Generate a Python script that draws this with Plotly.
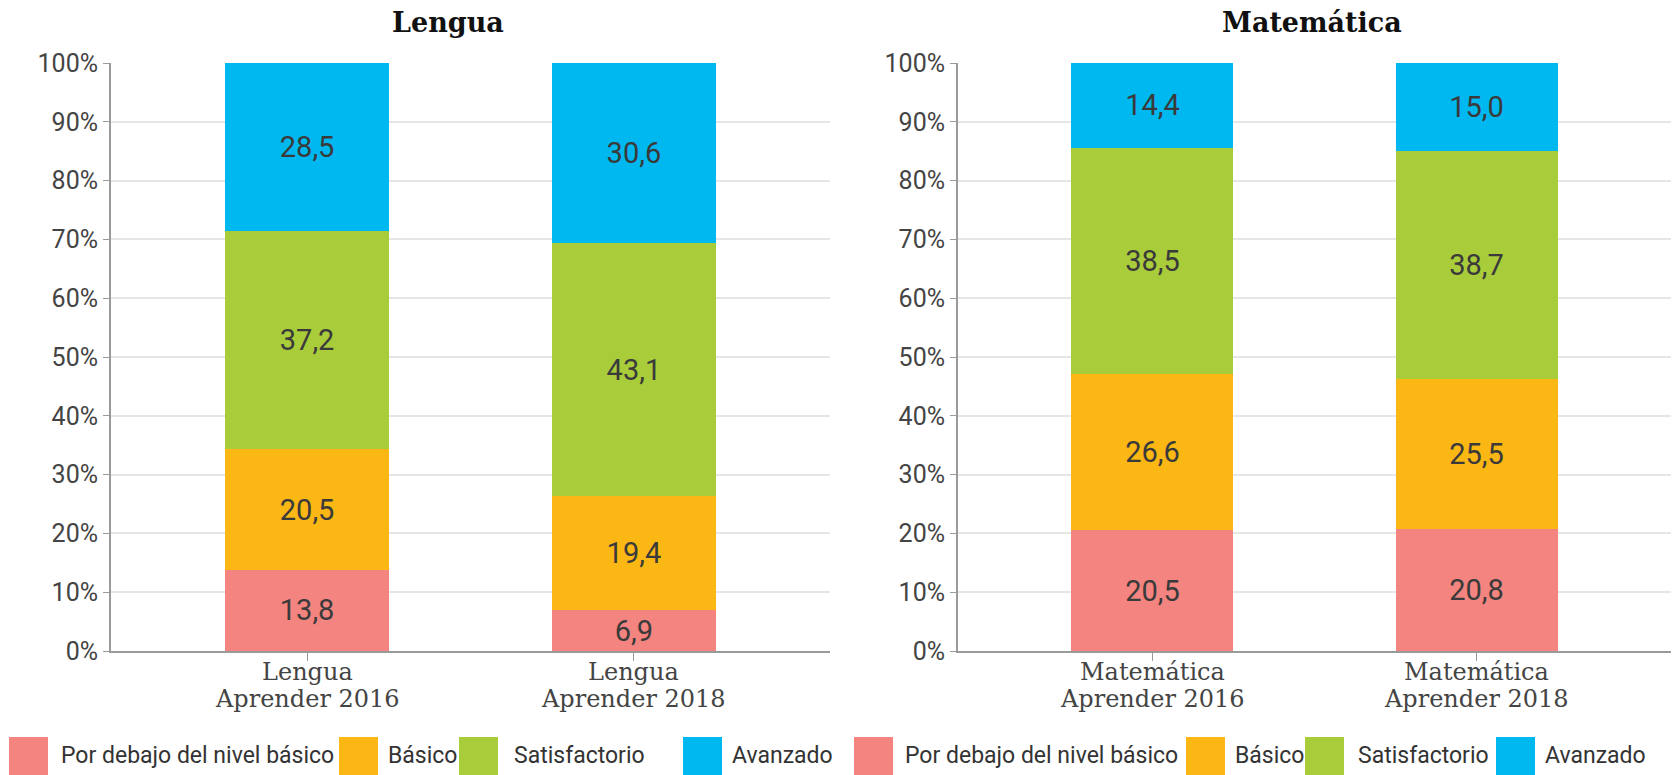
import plotly.graph_objects as go

W, H = 1674, 775

levels = ["Por debajo del nivel básico", "Básico", "Satisfactorio", "Avanzado"]
colors = ["#F4847F", "#FBB714", "#A8CC3A", "#00B8F0"]

lengua_cats = ["Lengua<br>Aprender 2016", "Lengua<br>Aprender 2018"]
mate_cats = ["Matemática<br>Aprender 2016", "Matemática<br>Aprender 2018"]

lengua_vals = {
    "Por debajo del nivel básico": [13.8, 6.9],
    "Básico": [20.5, 19.4],
    "Satisfactorio": [37.2, 43.1],
    "Avanzado": [28.5, 30.6],
}
mate_vals = {
    "Por debajo del nivel básico": [20.5, 20.8],
    "Básico": [26.6, 25.5],
    "Satisfactorio": [38.5, 38.7],
    "Avanzado": [14.4, 15.0],
}

y_ticks = [0, 10, 20, 30, 40, 50, 60, 70, 80, 90, 100]
y_ticktext = [f"{t}%" for t in y_ticks]

def fmt(v):
    return f"{v:.1f}".replace(".", ",")

fig = go.Figure()
for lvl, col in zip(levels, colors):
    fig.add_trace(go.Bar(
        x=lengua_cats, y=lengua_vals[lvl], name=lvl, marker_color=col,
        marker_line_width=0,
        text=[fmt(v) for v in lengua_vals[lvl]], textposition="inside",
        insidetextanchor="middle", textangle=0,
        textfont=dict(family="Roboto", size=29, color="#3a3a3a"),
        xaxis="x", yaxis="y", showlegend=False, hoverinfo="skip"))
    fig.add_trace(go.Bar(
        x=mate_cats, y=mate_vals[lvl], name=lvl, marker_color=col,
        marker_line_width=0,
        text=[fmt(v) for v in mate_vals[lvl]], textposition="inside",
        insidetextanchor="middle", textangle=0,
        textfont=dict(family="Roboto", size=29, color="#3a3a3a"),
        xaxis="x2", yaxis="y2", showlegend=False, hoverinfo="skip"))

def px(x):
    return x / W

def py(y):
    return 1 - y / H

ydom = [py(651), py(63)]
xaxis_common = dict(
    type="category", range=[-0.6, 1.6], showline=True, linecolor="#9a9a9a",
    linewidth=2, ticks="outside", ticklen=8, tickcolor="#9a9a9a",
    showticklabels=False,
    showgrid=False, zeroline=False, fixedrange=True, automargin=False)
yaxis_common = dict(
    range=[0, 100], tickvals=y_ticks, ticktext=y_ticktext, showline=True,
    linecolor="#9a9a9a", linewidth=2, ticks="outside", ticklen=6,
    tickcolor="#9a9a9a", showgrid=True, gridcolor="#e6e6e6", gridwidth=1.5,
    tickfont=dict(family="Roboto", size=25, color="#444444"),
    zeroline=False, domain=ydom, fixedrange=True, automargin=False)

fig.update_layout(
    width=W, height=H, margin=dict(l=0, r=0, t=0, b=0, autoexpand=False),
    paper_bgcolor="white", plot_bgcolor="white",
    barmode="stack", bargap=0.5, showlegend=False,
    xaxis=dict(domain=[px(111), px(830)], anchor="y", **xaxis_common),
    yaxis=dict(anchor="x", **yaxis_common),
    xaxis2=dict(domain=[px(958), px(1671)], anchor="y2", **xaxis_common),
    yaxis2=dict(anchor="x2", **yaxis_common),
)

annotations = [
    dict(text="<b>Lengua</b>", x=px(448), y=py(22), xref="paper", yref="paper",
         showarrow=False, xanchor="center", yanchor="middle",
         font=dict(family="DejaVu Serif", size=27, color="#111111")),
    dict(text="<b>Matemática</b>", x=px(1312), y=py(22), xref="paper", yref="paper",
         showarrow=False, xanchor="center", yanchor="middle",
         font=dict(family="DejaVu Serif", size=27, color="#111111")),
]
# category labels (two lines each), positioned on the category axis
for cats, xr in ((lengua_cats, "x"), (mate_cats, "x2")):
    for c in cats:
        for i, line in enumerate(c.split("<br>")):
            annotations.append(dict(
                text=line, x=c, xref=xr, y=py(672 + i * 27), yref="paper",
                showarrow=False, xanchor="center", yanchor="middle",
                font=dict(family="DejaVu Serif", size=24, color="#444444")))

shapes = []
legend_left = [(9, 59), (339, 386), (459, 512), (683, 730)]
legend_right = [(854, 903), (1186, 1233), (1305, 1356), (1496, 1543)]
for group in (legend_left, legend_right):
    for (sx, tx), lvl, col in zip(group, levels, colors):
        shapes.append(dict(type="rect", xref="paper", yref="paper",
                           x0=px(sx), x1=px(sx + 39), y0=py(776), y1=py(737),
                           fillcolor=col, line_width=0))
        annotations.append(dict(text=lvl, x=px(tx), y=py(755), xref="paper",
                                yref="paper", showarrow=False, xanchor="left",
                                yanchor="middle",
                                font=dict(family="Roboto", size=23, color="#333333")))
fig.update_layout(annotations=annotations, shapes=shapes)

fig.write_html("out.html", config={"displayModeBar": False},
               post_script="document.body.style.margin='0px';")
